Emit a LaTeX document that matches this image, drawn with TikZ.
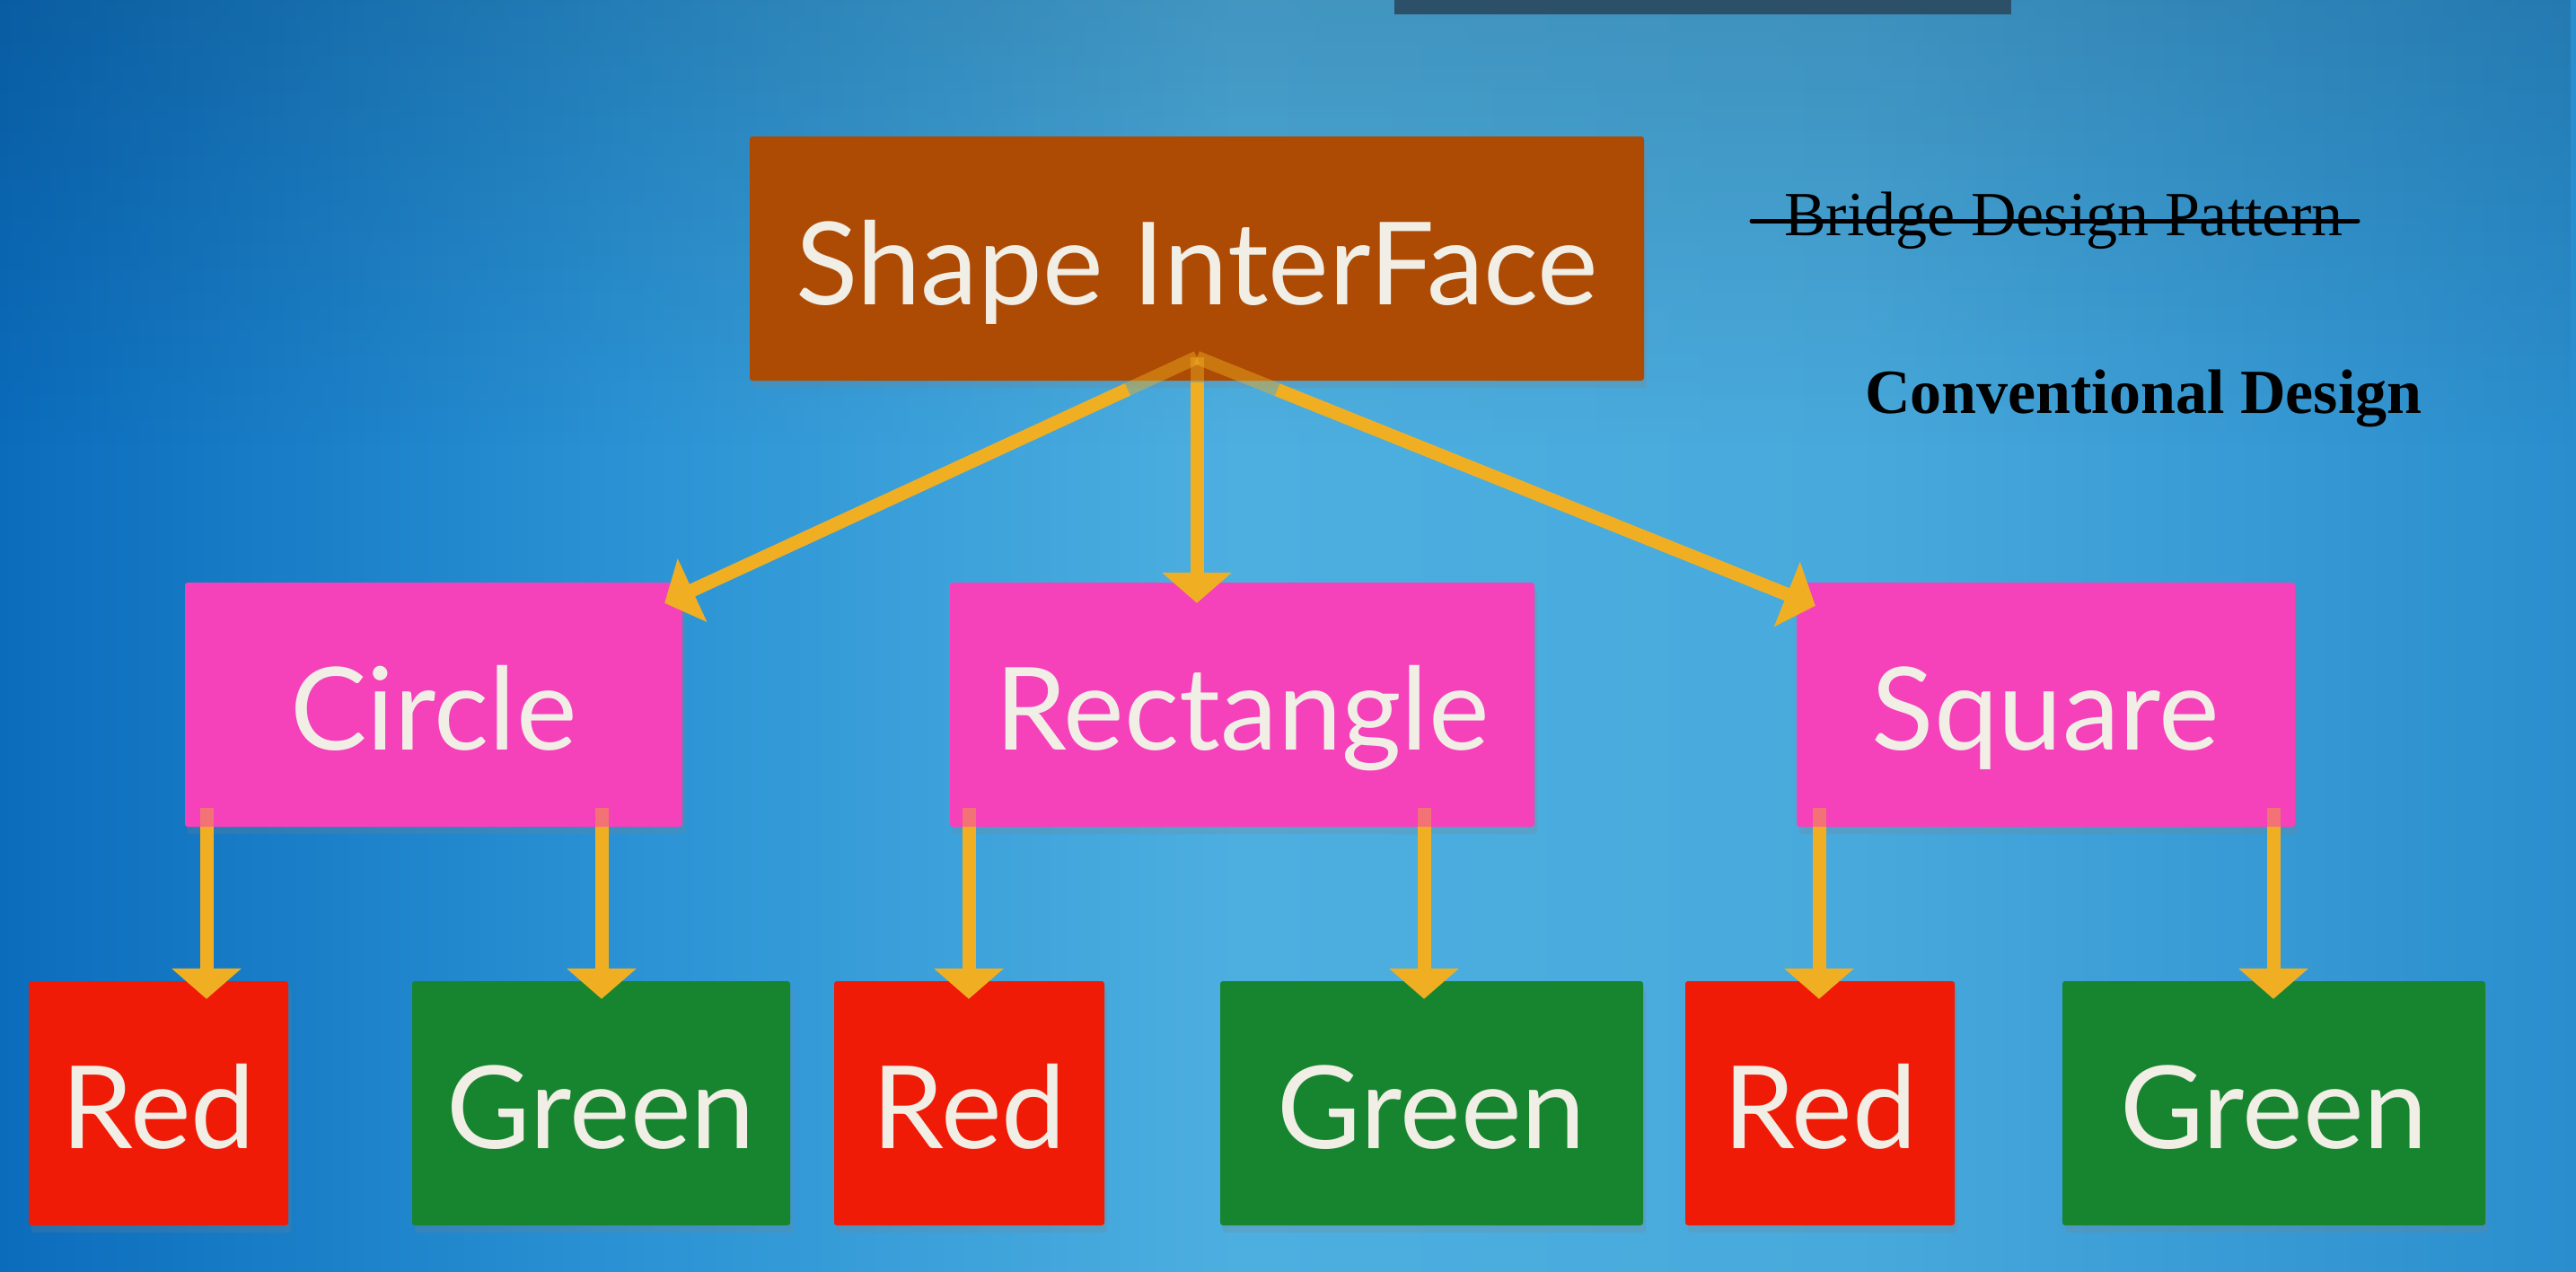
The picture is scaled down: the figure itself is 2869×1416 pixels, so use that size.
\documentclass[tikz,border=0pt]{standalone}
\usepackage{fontspec}
\newfontfamily\latofont{Lato}
\newfontfamily\seriffont{Liberation Serif}
\usetikzlibrary{arrows.meta,shadows,calc,fadings}
\definecolor{bgA}{HTML}{0B6CBC}
\definecolor{bgB}{HTML}{2A92D4}
\definecolor{bgC}{HTML}{4DAFE0}
\definecolor{bgD}{HTML}{48A9DC}
\definecolor{bgE}{HTML}{2A8ECE}
\definecolor{shapec}{HTML}{AD4A03}
\definecolor{pinkc}{HTML}{F541BA}
\definecolor{redc}{HTML}{EF1B06}
\definecolor{greenc}{HTML}{17852F}
\definecolor{txtc}{HTML}{F1EEE6}
\definecolor{arrowc}{HTML}{F0AF22}
\definecolor{barc}{HTML}{2C5067}
\pgfdeclarehorizontalshading{bgshade}{100bp}{color(0bp)=(bgA); color(25bp)=(bgA); color(37bp)=(bgB); color(49bp)=(bgC); color(61bp)=(bgD); color(75bp)=(bgE); color(100bp)=(bgE)}
\begin{document}
\begin{tikzpicture}[x=1pt,y=-1pt,
  box/.style={rectangle, rounded corners=3pt, inner sep=0pt, text=txtc,
    font=\latofont\fontsize{128}{128}\selectfont, text height=100pt, text depth=0pt,
    minimum height=272pt,
    drop shadow={opacity=0.22, shadow xshift=3pt, shadow yshift=-8pt}},
  topbox/.style={box, fill=shapec, text height=102pt},
  midbox/.style={box, fill=pinkc},
  redbox/.style={box, fill=redc},
  greenbox/.style={box, fill=greenc},
  arr/.style={draw=arrowc, line width=15pt, -{Triangle[width=76pt,length=34pt]}},
  arrfade/.style={draw=arrowc, line width=15pt, opacity=0.45},
  serifnote/.style={anchor=base west, inner sep=0pt, text=black, font=\seriffont\fontsize{70}{70}\selectfont}
]
\useasboundingbox (0,0) rectangle (2869,1416);
\fill[shading=bgshade] (0,0) rectangle (2869,1416);
\fill[black, opacity=0.14, path fading=south] (0,0) rectangle (2869,500);
\fill[barc] (1553,0) rectangle (2240,16);

% boxes
\node[topbox, minimum width=996pt] (shape) at (1333,288) {Shape InterFace};
\node[midbox, minimum width=554pt] (circle) at (483,785) {Circle};
\node[midbox, minimum width=651pt] (rect) at (1383.5,785) {Rectangle};
\node[midbox, minimum width=555pt] (square) at (2278.5,785) {Square};
\node[redbox, minimum width=289pt] (red1) at (176.5,1229) {Red};
\node[greenbox, minimum width=421pt] (green1) at (669.5,1229) {Green};
\node[redbox, minimum width=301pt] (red2) at (1079.5,1229) {Red};
\node[greenbox, minimum width=471pt] (green2) at (1594.5,1229) {Green};
\node[redbox, minimum width=300pt] (red3) at (2027,1229) {Red};
\node[greenbox, minimum width=471pt] (green3) at (2532.5,1229) {Green};

% top arrows
\coordinate (apex) at ([yshift=26pt]shape.south);
\coordinate (t1) at ([shift={(-20,23)}]circle.north east);
\coordinate (t2) at ([yshift=-23pt]rect.north -| shape.south);
\coordinate (t3) at ([shift={(21,26)}]square.north west);
\coordinate (e1) at ($(apex)!0.13!(t1)$);
\coordinate (e2) at ($(apex)!0.1!(t2)$);
\coordinate (e3) at ($(apex)!0.13!(t3)$);
\draw[arrfade] (apex) -- (e1);
\draw[arrfade] (apex) -- (e2);
\draw[arrfade] (apex) -- (e3);
\draw[arr] (e1) -- (t1);
\draw[arr] (e2) -- (t2);
\draw[arr] (e3) -- (t3);

% lower arrows
\foreach \p/\c/\x in {circle/red1/230, circle/green1/670, rect/red2/1079, rect/green2/1586, square/red3/2026, square/green3/2532}{
  \coordinate (s) at (\x,0 |- \p.south);
  \coordinate (f) at ([yshift=21pt]s);
  \coordinate (e) at (\x,0 |- \c.north);
  \draw[arrfade] (f) -- (s);
  \draw[arr, shorten >=-20pt] (s) -- (e);
}

% notes
\node[serifnote] (bridge) at (1987,262) {Bridge Design Pattern};
\draw[line width=5pt, line cap=round] (1951,246) -- (2626,246);
\node[serifnote, font=\seriffont\bfseries\fontsize{70}{70}\selectfont] (conv) at (2077,460) {Conventional Design};
\end{tikzpicture}
\end{document}
